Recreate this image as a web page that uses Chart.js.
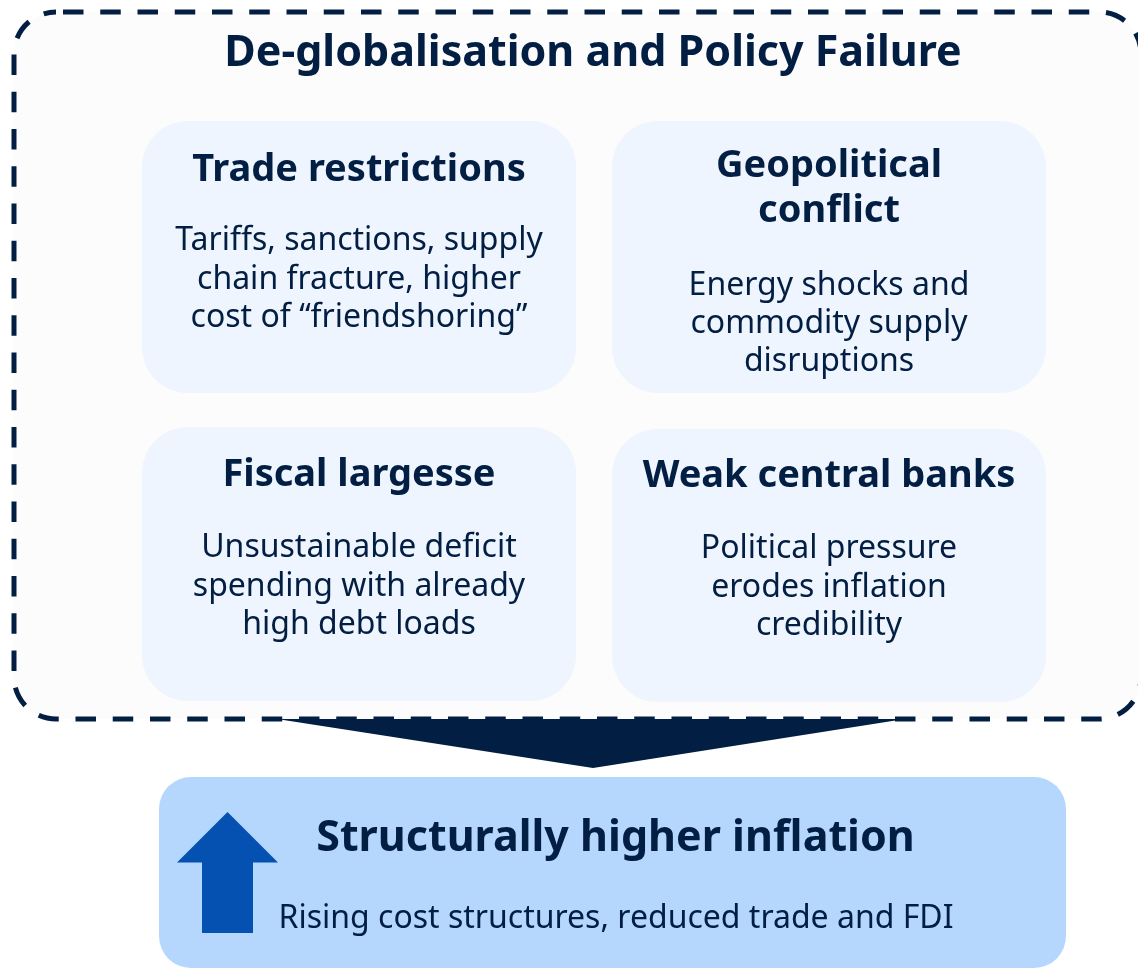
<!DOCTYPE html>
<html>
<head>
<meta charset="utf-8">
<script src="https://cdn.jsdelivr.net/npm/chart.js@4.4.1/dist/chart.umd.min.js"></script>
<style>
  html, body { margin: 0; padding: 0; background: #ffffff; }
  #wrap { width: 1138px; height: 969px; position: relative; }
  canvas { display: block; }
</style>
</head>
<body>
<div id="wrap"><canvas id="c" width="1138" height="969"></canvas></div>
<script>
// ---------------- DATA (text content) ----------------
const headline = 'De-globalisation and Policy Failure';
const panelTitles = [
  ['Trade restrictions'],
  ['Geopolitical', 'conflict'],
  ['Fiscal largesse'],
  ['Weak central banks']
];
const panelBodies = [
  ['Tariffs, sanctions, supply', 'chain fracture, higher', 'cost of \u201Cfriendshoring\u201D'],
  ['Energy shocks and', 'commodity supply', 'disruptions'],
  ['Unsustainable deficit', 'spending with already', 'high debt loads'],
  ['Political pressure', 'erodes inflation', 'credibility']
];
const outcomeTitle = 'Structurally higher inflation';
const outcomeBody = 'Rising cost structures, reduced trade and FDI';

// ---------------- LAYOUT (positions in scale units) ----------------
const LAYOUT = {
  frame: { x0: 14, y0: 12, x1: 1141, y1: 719, r: 42 },
  headlineAt: { x: 593, y: 66 },
  panels: [
    { x0: 142, y0: 121, x1: 576, y1: 393, titleY: [181], bodyY: [250, 288.5, 327] },
    { x0: 612, y0: 121, x1: 1046, y1: 393, titleY: [177, 222], bodyY: [295, 333, 371] },
    { x0: 142, y0: 427, x1: 576, y1: 701, titleY: [486], bodyY: [557, 595.5, 634] },
    { x0: 612, y0: 429, x1: 1046, y1: 702, titleY: [487], bodyY: [558, 596.5, 635] }
  ],
  funnel: [[277, 719], [905, 719], [593, 768]],
  outcome: { x0: 159, y0: 777, x1: 1066, y1: 968, r: 32, titleX: 615.5, titleY: 851, bodyX: 616, bodyY: 928 },
  upArrow: { tip: [227.5, 812], headY: 862.5, headX0: 177, headX1: 278, shaftX0: 202, shaftX1: 253, shaftY1: 933 }
};

const STYLE = {
  navy: '#021e42',
  frameFill: '#fcfcfd',
  panelFill: '#eef5fe',
  outcomeFill: '#b5d7fd',
  arrowBlue: '#0451b1',
  font: '"Noto Sans", "Open Sans", sans-serif',
  headlineSize: 43, panelTitleSize: 38, bodySize: 32, outcomeTitleSize: 43, outcomeBodySize: 32
};

function roundPath(ctx, x0, y0, x1, y1, r) {
  ctx.beginPath();
  ctx.moveTo(x0 + r, y0);
  ctx.lineTo(x1 - r, y0);
  ctx.arcTo(x1, y0, x1, y0 + r, r);
  ctx.lineTo(x1, y1 - r);
  ctx.arcTo(x1, y1, x1 - r, y1, r);
  ctx.lineTo(x0 + r, y1);
  ctx.arcTo(x0, y1, x0, y1 - r, r);
  ctx.lineTo(x0, y0 + r);
  ctx.arcTo(x0, y0, x0 + r, y0, r);
  ctx.closePath();
}

const diagramPlugin = {
  id: 'diagram',
  afterDraw(chart) {
    const ctx = chart.ctx;
    const xs = chart.scales.x, ys = chart.scales.y;
    const X = v => xs.getPixelForValue(v);
    const Y = v => ys.getPixelForValue(v);
    const k = Math.abs(X(1) - X(0));
    const L = LAYOUT, S = STYLE;
    ctx.save();

    // outer dashed frame
    const f = L.frame;
    roundPath(ctx, X(f.x0), Y(f.y0), X(f.x1), Y(f.y1), f.r * k);
    ctx.fillStyle = S.frameFill;
    ctx.fill();
    ctx.setLineDash([20.5 * k, 16.75 * k]);
    ctx.lineDashOffset = 30.25 * k;
    ctx.lineWidth = 5 * k;
    ctx.strokeStyle = S.navy;
    ctx.stroke();
    ctx.setLineDash([]);

    // headline
    ctx.fillStyle = S.navy;
    ctx.textAlign = 'center';
    ctx.textBaseline = 'alphabetic';
    ctx.font = `700 ${S.headlineSize * k}px ${S.font}`;
    ctx.fillText(headline, X(L.headlineAt.x), Y(L.headlineAt.y));

    // panels
    L.panels.forEach((p, i) => {
      roundPath(ctx, X(p.x0), Y(p.y0), X(p.x1), Y(p.y1), 46 * k);
      ctx.fillStyle = S.panelFill;
      ctx.fill();
      const cx = X((p.x0 + p.x1) / 2);
      ctx.fillStyle = S.navy;
      ctx.font = `700 ${S.panelTitleSize * k}px ${S.font}`;
      panelTitles[i].forEach((t, j) => ctx.fillText(t, cx, Y(p.titleY[j])));
      ctx.font = `400 ${S.bodySize * k}px ${S.font}`;
      panelBodies[i].forEach((t, j) => ctx.fillText(t, cx, Y(p.bodyY[j])));
    });

    // funnel arrow
    ctx.beginPath();
    L.funnel.forEach((pt, i) => i ? ctx.lineTo(X(pt[0]), Y(pt[1])) : ctx.moveTo(X(pt[0]), Y(pt[1])));
    ctx.closePath();
    ctx.fillStyle = S.navy;
    ctx.fill();

    // outcome box
    const o = L.outcome;
    roundPath(ctx, X(o.x0), Y(o.y0), X(o.x1), Y(o.y1), o.r * k);
    ctx.fillStyle = S.outcomeFill;
    ctx.fill();

    // up arrow
    const a = L.upArrow;
    ctx.beginPath();
    ctx.moveTo(X(a.tip[0]), Y(a.tip[1]));
    ctx.lineTo(X(a.headX1), Y(a.headY));
    ctx.lineTo(X(a.shaftX1), Y(a.headY));
    ctx.lineTo(X(a.shaftX1), Y(a.shaftY1));
    ctx.lineTo(X(a.shaftX0), Y(a.shaftY1));
    ctx.lineTo(X(a.shaftX0), Y(a.headY));
    ctx.lineTo(X(a.headX0), Y(a.headY));
    ctx.closePath();
    ctx.fillStyle = S.arrowBlue;
    ctx.fill();

    ctx.fillStyle = S.navy;
    ctx.font = `700 ${S.outcomeTitleSize * k}px ${S.font}`;
    ctx.fillText(outcomeTitle, X(o.titleX), Y(o.titleY));
    ctx.font = `400 ${S.outcomeBodySize * k}px ${S.font}`;
    ctx.fillText(outcomeBody, X(o.bodyX), Y(o.bodyY));

    ctx.restore();
  }
};

function build() {
  new Chart(document.getElementById('c'), {
    type: 'scatter',
    data: { datasets: [{ data: [], pointRadius: 0 }] },
    options: {
      responsive: false,
      animation: false,
      events: [],
      layout: { padding: 0 },
      plugins: { legend: { display: false }, title: { display: false }, tooltip: { enabled: false } },
      scales: {
        x: { type: 'linear', min: 0, max: 1138, display: false },
        y: { type: 'linear', min: 0, max: 969, reverse: true, display: false }
      }
    },
    plugins: [diagramPlugin]
  });
}

const fontLoads = [
  document.fonts.load('700 43px "Noto Sans"'),
  document.fonts.load('400 32px "Noto Sans"')
];
Promise.race([Promise.all(fontLoads), new Promise(r => setTimeout(r, 1500))]).then(build, build);
</script>
</body>
</html>
